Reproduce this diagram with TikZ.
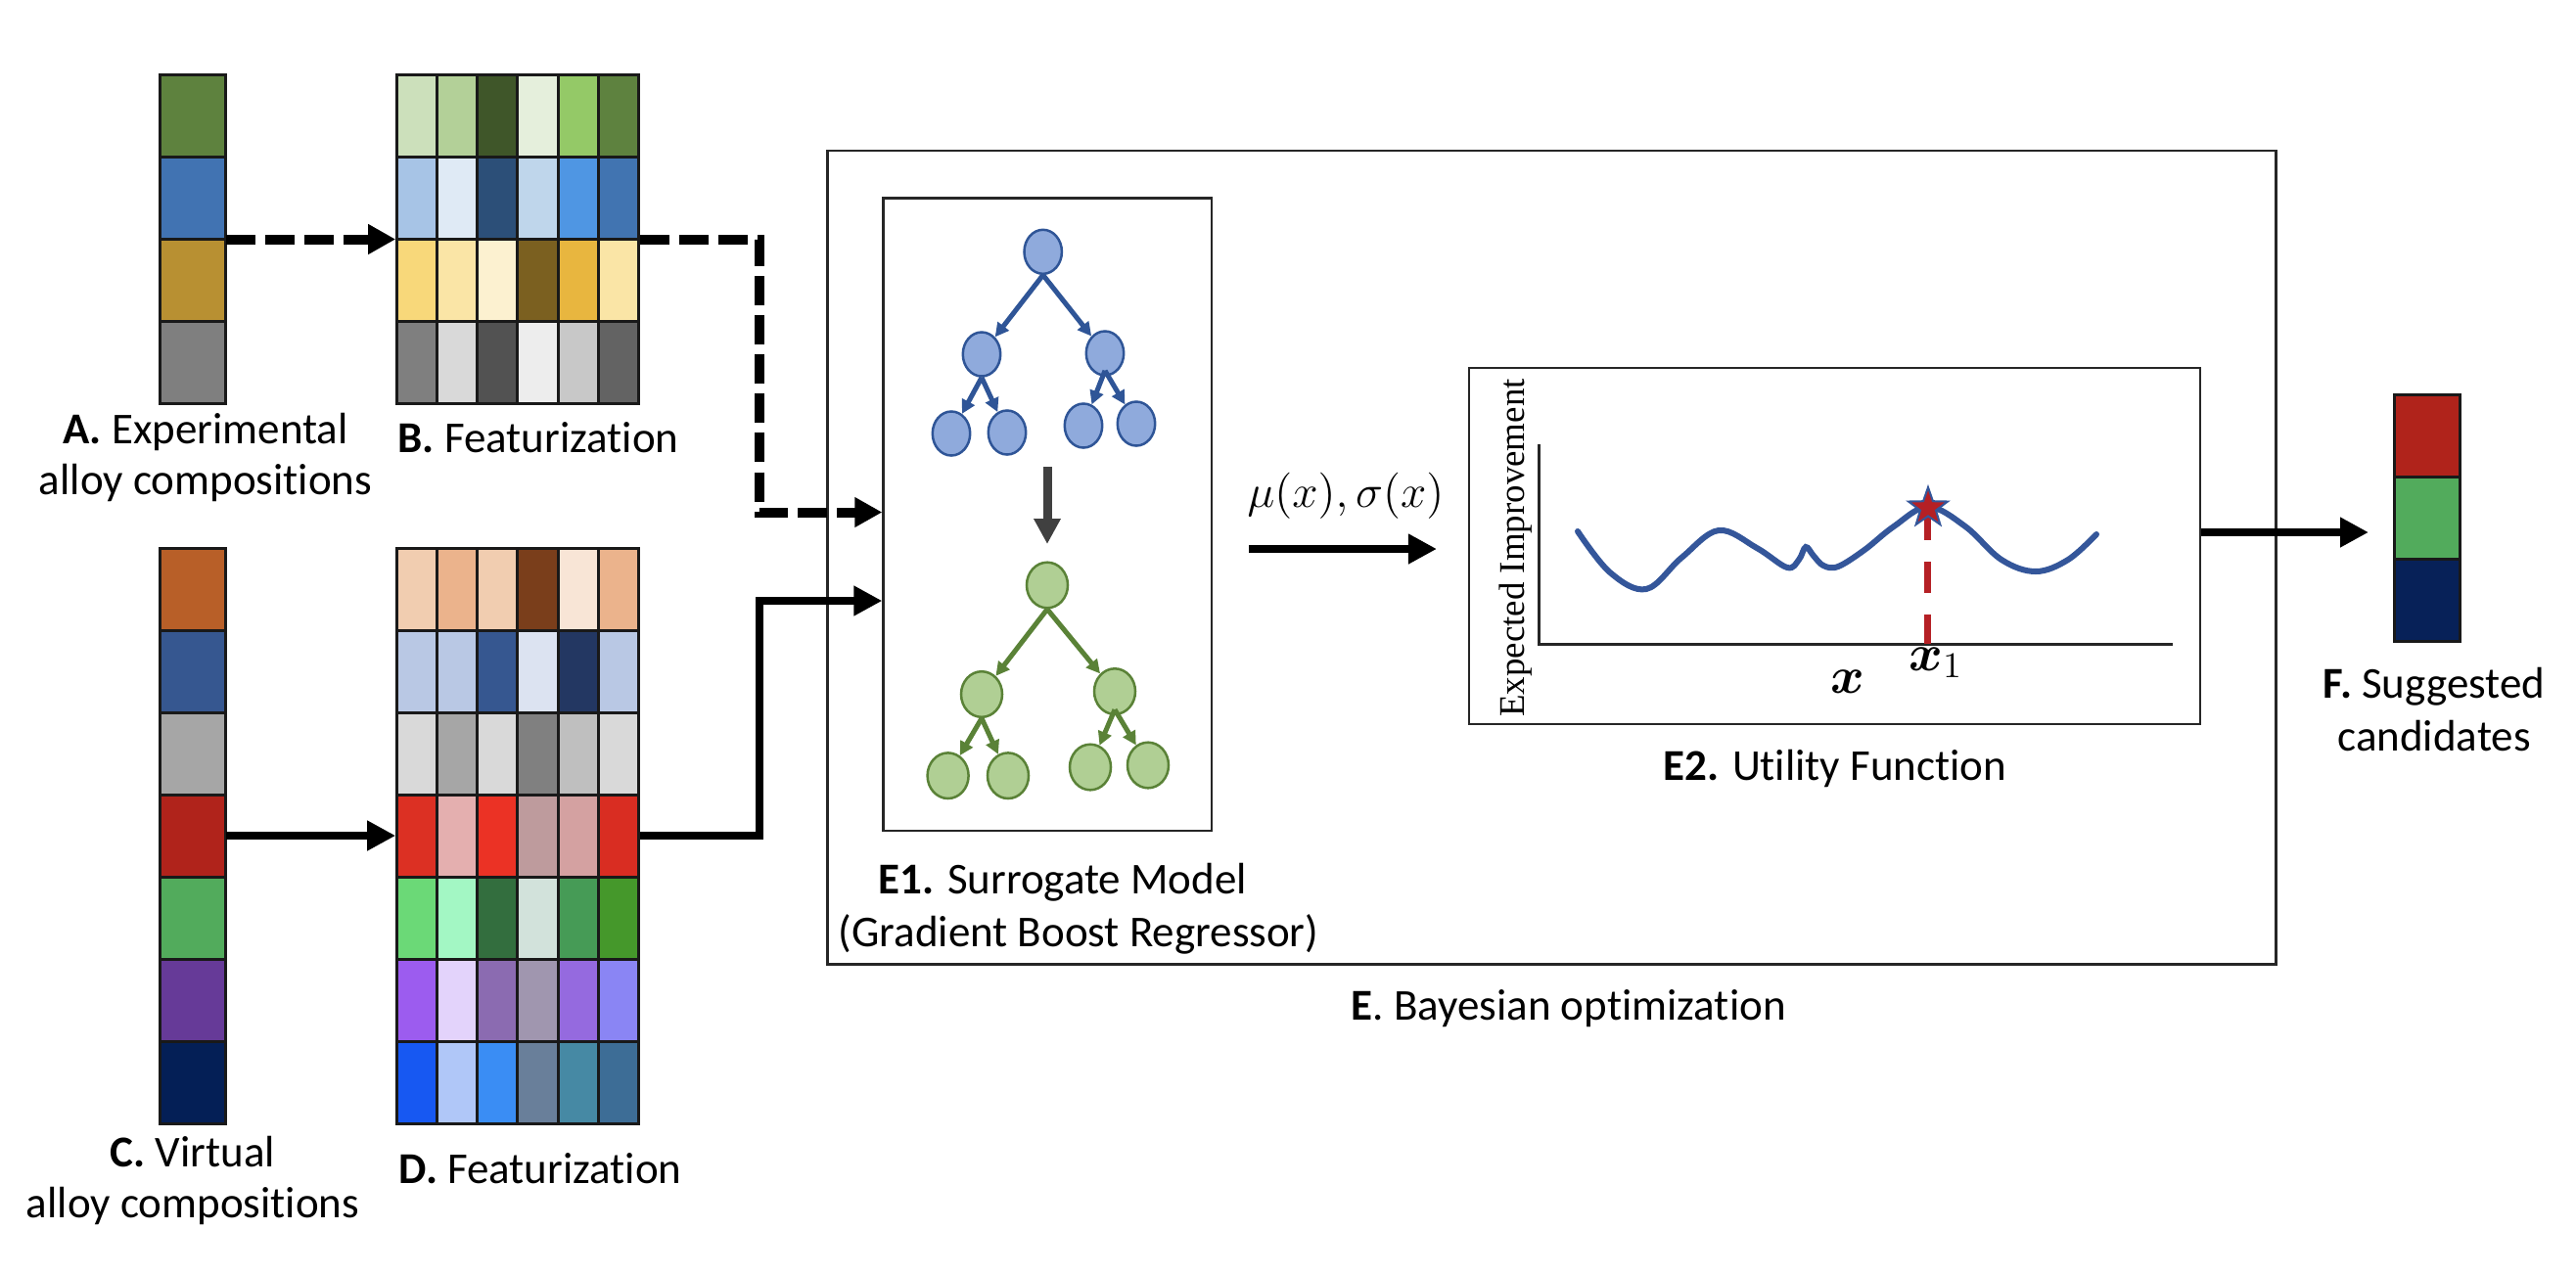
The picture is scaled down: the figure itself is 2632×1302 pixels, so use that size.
\documentclass[tikz,border=0pt]{standalone}
\usepackage{fix-cm}
\usepackage{amsmath}
\usepackage[no-math]{fontspec}
\setmainfont{Carlito}[Ligatures=CommonOff]
\newfontfamily\tnr{Liberation Serif}
\usetikzlibrary{arrows.meta,shapes.geometric,calc}
\definecolor{treeblue}{HTML}{2F5597}
\definecolor{treebluefill}{HTML}{8FAADC}
\definecolor{treegreen}{HTML}{5A8237}
\definecolor{treegreenfill}{HTML}{B0CF94}
\definecolor{curveblue}{HTML}{34569A}
\definecolor{markred}{HTML}{B52025}
\definecolor{darkarrow}{HTML}{404040}
\newcommand\gridrow[4]{%
  \foreach \cc [count=\ii from 0] in {#4} {%
    \edef\tmpdef{\noexpand\definecolor{cellc}{HTML}{\cc}}\tmpdef
    \draw[cellbox, fill=cellc] ({#1+\ii*#3},#2) rectangle ++(#3,84);
  }}
\begin{document}
\begin{tikzpicture}[x=0.01cm,y=-0.01cm,
  cellbox/.style={draw=black!90, line width=0.03cm},
  frame/.style={draw=black!85, line width=0.025cm, inner sep=0},
  holder/.style={inner sep=0},
  lbl/.style={inner sep=0, font=\fontsize{12.8}{14.8}\selectfont},
  dasharrow/.style={line width=0.1cm, dash pattern=on 0.3cm off 0.1cm, -{Triangle[length=0.28cm,width=0.29cm]}},
  solidarrow/.style={line width=0.085cm, -{Triangle[length=0.29cm,width=0.29cm]}},
  bnode/.style={ellipse, draw=treeblue, fill=treebluefill, line width=0.025cm, minimum width=0.384cm, minimum height=0.45cm, inner sep=0},
  gnode/.style={ellipse, draw=treegreen, fill=treegreenfill, line width=0.025cm, minimum width=0.42cm, minimum height=0.466cm, inner sep=0},
  barrow/.style={draw=treeblue, line width=0.05cm, -{Triangle[length=0.14cm,width=0.14cm]}},
  garrow/.style={draw=treegreen, line width=0.05cm, -{Triangle[length=0.14cm,width=0.14cm]}},
  ]
\useasboundingbox (0,0) rectangle (2632,1302);
\fill[white] (0,0) rectangle (2632,1302);

% ---------- A bar ----------
\gridrow{163}{76.5}{67}{5E823E}
\gridrow{163}{160.5}{67}{4173B2}
\gridrow{163}{244.5}{67}{B89032}
\gridrow{163}{328.5}{67}{7F7F7F}
\node[holder, minimum width=0.67cm, minimum height=3.36cm] (A) at (196.5,244.5) {};

% ---------- B grid ----------
\gridrow{405}{76.5}{41.33}{CCE0BB,B3D098,3F5629,E5EFDC,94C967,5E823F}
\gridrow{405}{160.5}{41.33}{A7C4E6,DFEAF5,2C4F78,BFD6EB,4F96E3,4174B1}
\gridrow{405}{244.5}{41.33}{F8D87A,FAE5A6,FCF1D0,7B6020,E8B63F,FAE5A6}
\gridrow{405}{328.5}{41.33}{7F7F7F,D9D9D9,525252,EDEDED,C8C8C8,636363}
\node[holder, minimum width=2.48cm, minimum height=3.36cm] (B) at (529,244.5) {};

% ---------- C bar ----------
\gridrow{163}{560}{67}{B85F28}
\gridrow{163}{644}{67}{365790}
\gridrow{163}{728}{67}{A6A6A6}
\gridrow{163}{812}{67}{B0231B}
\gridrow{163}{896}{67}{52AB5C}
\gridrow{163}{980}{67}{663A98}
\gridrow{163}{1064}{67}{041F56}
\node[holder, minimum width=0.67cm, minimum height=5.88cm] (C) at (196.5,854) {};

% ---------- D grid ----------
\gridrow{405}{560}{41.33}{F1CDB0,EBB38C,F1CDB0,7A3E1B,F8E5D6,EBB38C}
\gridrow{405}{644}{41.33}{B9C8E4,B9C8E4,365790,DCE3F1,233762,B9C8E4}
\gridrow{405}{728}{41.33}{D9D9D9,A6A6A6,D9D9D9,808080,BFBFBF,D9D9D9}
\gridrow{405}{812}{41.33}{DC3023,E4AFAF,EB3225,BE9B9D,D4A1A1,D92D22}
\gridrow{405}{896}{41.33}{6BD977,A3F7C4,336E3E,D2E2DB,469B56,45982B}
\gridrow{405}{980}{41.33}{9C5CEF,E3D3FB,8B6BB1,A096AF,956ADF,8A85F4}
\gridrow{405}{1064}{41.33}{1758F2,B0C7F8,3A8DF4,697F9A,4689A4,3D6D96}
\node[holder, minimum width=2.48cm, minimum height=5.88cm] (D) at (529,854) {};

% ---------- F bar ----------
\gridrow{2446}{403}{67}{B0231B}
\gridrow{2446}{487}{67}{52AB5C}
\gridrow{2446}{571}{67}{072158}
\node[holder, minimum width=0.67cm, minimum height=2.52cm] (F) at (2479.5,529) {};

% ---------- labels ----------
\node[lbl, anchor=base] (lA1) at (210,453) {\textbf{A.} Experimental};
\node[lbl, anchor=base] (lA2) at (210,505) {alloy compositions};
\node[lbl, anchor=base west] (lB) at (406,462) {\textbf{B.} Featurization};
\node[lbl, anchor=base] (lC1) at (197,1192) {\textbf{C.} Virtual};
\node[lbl, anchor=base] (lC2) at (197,1244) {alloy compositions};
\node[lbl, anchor=base west] (lD) at (407,1209) {\textbf{D.} Featurization};
\node[lbl, anchor=base] (lF1) at (2487,713) {\textbf{F.} Suggested};
\node[lbl, anchor=base] (lF2) at (2487,767) {candidates};

% ---------- E boxes ----------
\node[frame, minimum width=14.79cm, minimum height=8.31cm] (E) at (1585.5,569.5) {};
\node[frame, minimum width=3.35cm, minimum height=6.463cm] (E1) at (1070.2,525.85) {};
\node[frame, minimum width=7.47cm, minimum height=3.64cm] (E2) at (1874.5,558) {};
\node[lbl, anchor=base west] (lE11) at (897,913) {\textbf{E1.} Surrogate Model};
\node[lbl, anchor=base west] (lE12) at (856,967) {(Gradient Boost Regressor)};
\node[lbl, anchor=base] (lE2) at (1875,797) {\textbf{E2.} Utility Function};
\node[lbl, anchor=base west] (lE) at (1380,1042) {\textbf{E}. Bayesian optimization};

% ---------- trees ----------
\node[bnode] (b0) at (1065.7,257.3) {};
\node[bnode] (b1) at (1003,362) {};
\node[bnode] (b2) at (1129,361) {};
\node[bnode] (b3) at (972,443) {};
\node[bnode] (b4) at (1029,442) {};
\node[bnode] (b5) at (1107,435) {};
\node[bnode] (b6) at (1161,433) {};
\draw[barrow] (b0.south) -- (b1);
\draw[barrow] (b0.south) -- (b2);
\draw[barrow] (b1.south) -- (b3);
\draw[barrow] (b1.south) -- (b4);
\draw[barrow] ($(b2.south)+(0,-6)$) -- (b5);
\draw[barrow] ($(b2.south)+(0,-6)$) -- (b6);

\coordinate (dA) at (1070,477);
\coordinate (dB) at (1070,556);
\draw[darkarrow, line width=0.09cm, -{Triangle[length=0.26cm,width=0.26cm]}] (dA) -- (dB);

\node[gnode] (g0) at (1070,598) {};
\node[gnode] (g1) at (1003,709.5) {};
\node[gnode] (g2) at (1139,706.6) {};
\node[gnode] (g3) at (968.6,792.7) {};
\node[gnode] (g4) at (1030,792.7) {};
\node[gnode] (g5) at (1114,784) {};
\node[gnode] (g6) at (1173,782) {};
\draw[garrow] (g0.south) -- (g1);
\draw[garrow] (g0.south) -- (g2);
\draw[garrow] (g1.south) -- (g3);
\draw[garrow] (g1.south) -- (g4);
\draw[garrow] ($(g2.south)+(0,-6)$) -- (g5);
\draw[garrow] ($(g2.south)+(0,-6)$) -- (g6);

% ---------- connectors ----------
\draw[dasharrow] (A.east) -- (B.west);
\draw[solidarrow] (C.east) -- (D.west);
\coordinate (j1) at (776,523.5);
\coordinate (j2) at (776,614);
\draw[dasharrow] (B.east) -| (j1) -- (E1.west |- j1);
\draw[solidarrow] (D.east) -| (j2) -- (E1.west |- j2);
\coordinate (mu1) at (1276,561);
\coordinate (mu2) at (1468,561);
\draw[solidarrow] (mu1) -- (mu2);
\node[lbl, anchor=base west, font=\fontsize{13.4}{15}\selectfont] (mulbl) at (1274,518) {$\mu(x),\sigma(x)$};
\coordinate (o1) at (2248,544);
\coordinate (o2) at (2420,544);
\draw[solidarrow] (E2.east |- o1) -- (o2);

% ---------- utility plot ----------
\draw[black!85, line width=0.03cm] (1572,454) -- (1572,658) -- (2220,658);
\node[inner sep=0, rotate=90, anchor=base, font=\tnr\fontsize{10.5}{12}\selectfont] (ylab) at (1557,560) {Expected Improvement};
\draw[curveblue, line width=0.06cm, line cap=round] plot[smooth, tension=0.6] coordinates {
  (1612,543) (1645,585) (1682,602) (1718,570) (1756,542) (1795,560) (1826,580)
  (1838,572) (1845,559) (1853,568) (1863,578) (1878,579) (1905,562) (1935,538)
  (1970,518) (2008,538) (2045,572) (2080,584) (2113,572) (2142,546)};
\draw[markred, line width=0.07cm, dash pattern=on 0.32cm off 0.22cm] (1969,520) -- (1969,658);
\node[star, star points=5, star point ratio=2.5, fill=markred, draw=curveblue, line width=0.02cm, minimum size=0.42cm, inner sep=0] (st) at (1970,519) {};
\node[inner sep=0, anchor=base, font=\fontsize{15}{18}\selectfont] (xl) at (1888,708) {$\boldsymbol{x}$};
\node[inner sep=0, anchor=base, font=\fontsize{15}{18}\selectfont] (x1l) at (1978,685) {$\boldsymbol{x}_1$};
\end{tikzpicture}
\end{document}
